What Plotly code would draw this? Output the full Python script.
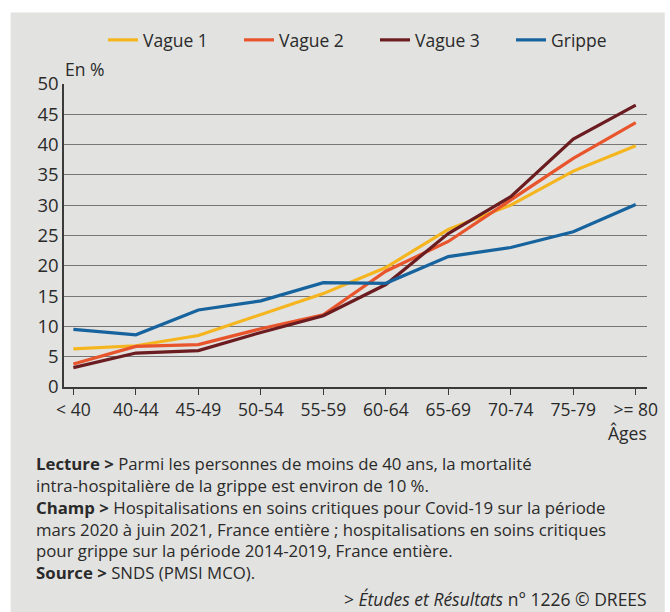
import plotly.graph_objects as go

categories = ["< 40", "40-44", "45-49", "50-54", "55-59", "60-64", "65-69", "70-74", "75-79", ">= 80"]
vague1 = [6.3, 6.8, 8.5, 12.0, 15.4, 19.7, 26.0, 30.0, 35.6, 39.8]
vague2 = [3.8, 6.7, 7.0, 9.6, 11.9, 19.1, 24.0, 30.9, 37.7, 43.6]
vague3 = [3.2, 5.6, 6.0, 9.0, 11.75, 16.9, 25.3, 31.4, 40.9, 46.5]
grippe = [9.5, 8.6, 12.7, 14.2, 17.2, 17.1, 21.5, 23.0, 25.6, 30.1]
series_names = ["Vague 1", "Vague 2", "Vague 3", "Grippe"]
y_ticks = [0, 5, 10, 15, 20, 25, 30, 35, 40, 45, 50]

colors = ["#f5b51e", "#e8542b", "#6a1c20", "#16639e"]
FONT = "Open Sans"
TXT = "#2a2a2a"
BG = "#e2e2e0"

W, H = 670, 612
L, R = 64, 654
T, B = 81.7, 386.7


def px(x):
    return (x - L) / (R - L)


def py(y):
    return (B - y) / (B - T)


fig = go.Figure()
for name, vals, c in zip(series_names, [vague1, vague2, vague3, grippe], colors):
    fig.add_trace(go.Scatter(x=categories, y=vals, name=name, mode="lines",
                             line=dict(color=c, width=3.2)))

fig.add_shape(type="rect", xref="paper", yref="paper", layer="below",
              x0=px(10), x1=px(672), y0=py(614), y1=py(10),
              fillcolor=BG, line=dict(width=0))

notes = [
    "<b>Lecture ></b> Parmi les personnes de moins de 40 ans, la mortalité",
    "intra-hospitalière de la grippe est environ de 10 %.",
    "<b>Champ ></b> Hospitalisations en soins critiques pour Covid-19 sur la période",
    "mars 2020 à juin 2021, France entière ; hospitalisations en soins critiques",
    "pour grippe sur la période 2014-2019, France entière.",
    "<b>Source ></b> SNDS (PMSI MCO).",
]

ann = []
ann.append(dict(text="En %", x=px(63), y=py(67), xanchor="left", yanchor="middle"))
ann.append(dict(text="Âges", x=px(656), y=py(433), xanchor="right", yanchor="middle"))
ann.append(dict(text="<br>".join(notes), x=px(34), y=py(464 + 2.5 * 21.8),
                xanchor="left", yanchor="middle", align="left", font=dict(size=16.8)))
ann.append(dict(text="> <i>Études et Résultats</i> n° 1226 © DREES", x=px(656), y=py(600),
                xanchor="right", yanchor="middle", font=dict(size=17.5)))
for a in ann:
    a.update(xref="paper", yref="paper", showarrow=False)
    a.setdefault("font", dict(size=17.5))
    a["font"].update(family=FONT, color=TXT)

fig.update_layout(
    width=W, height=H,
    margin=dict(l=L, r=W - R, t=T, b=H - B, pad=0),
    paper_bgcolor="white", plot_bgcolor="rgba(0,0,0,0)",
    font=dict(family=FONT, size=17.5, color=TXT),
    showlegend=True,
    legend=dict(orientation="h", xref="container", yref="container",
                x=103 / W, y=1 - 40 / H, xanchor="left", yanchor="middle",
                entrywidth=91, entrywidthmode="pixels", itemwidth=30,
                bgcolor="rgba(0,0,0,0)", font=dict(size=17.5, family=FONT, color=TXT)),
    annotations=ann,
)
fig.update_xaxes(type="category", range=[-0.15, 9.18], showgrid=False,
                 showline=True, linecolor="#3a3a3a", linewidth=1.5,
                 ticks="outside", ticklen=6, tickcolor="#3a3a3a", tickwidth=1.3,
                 tickfont=dict(size=17.5, family=FONT, color=TXT), zeroline=False)
fig.update_yaxes(range=[0, 50], tickvals=y_ticks, showgrid=True, gridcolor="#767676", gridwidth=1,
                 showline=True, linecolor="#3a3a3a", linewidth=1.5, ticks="",
                 tickfont=dict(size=18.5, family=FONT, color=TXT), zeroline=False,
                 ticklabelstandoff=0)

fig.write_html("out.html", config={"displayModeBar": False},
               post_script="document.body.style.margin='0';document.body.style.overflow='hidden';")
